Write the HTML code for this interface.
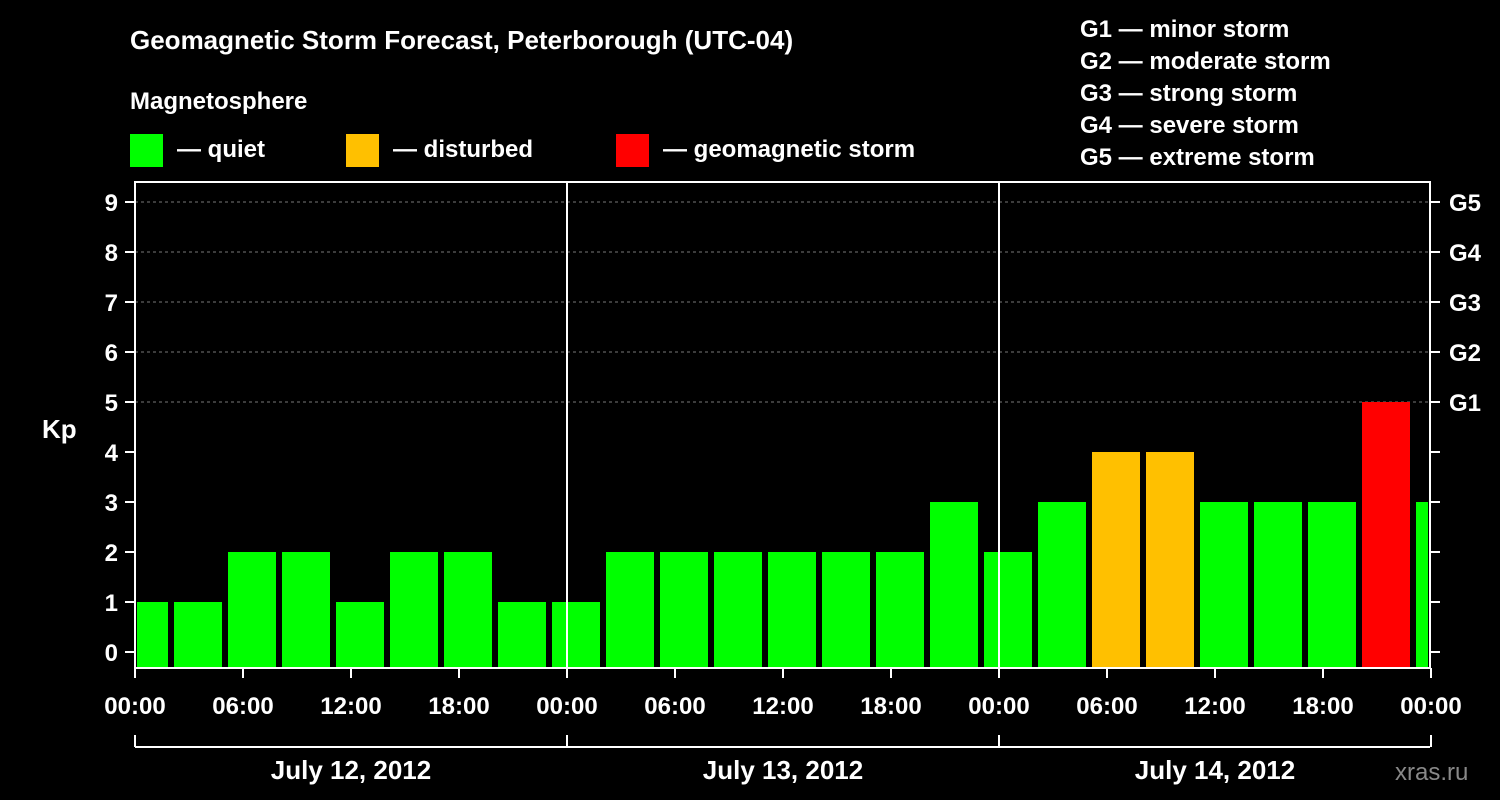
<!DOCTYPE html>
<html><head><meta charset="utf-8"><style>
body{margin:0;background:#000;}
svg{display:block;font-family:"Liberation Sans",Arial,sans-serif;font-weight:bold;}
</style></head><body>
<svg id="chart" width="1500" height="800">
<rect width="1500" height="800" fill="#000"/>
<text x="130" y="49" fill="#fff" font-size="26">Geomagnetic Storm Forecast, Peterborough (UTC-04)</text>
<text x="130" y="109" fill="#fff" font-size="24">Magnetosphere</text>
<g><rect x="130" y="134" width="33" height="33" fill="#00ff00"/><text x="177" y="157" fill="#fff" font-size="24">— quiet</text></g>
<g><rect x="346" y="134" width="33" height="33" fill="#ffc000"/><text x="393" y="157" fill="#fff" font-size="24">— disturbed</text></g>
<g><rect x="616" y="134" width="33" height="33" fill="#ff0000"/><text x="663" y="157" fill="#fff" font-size="24">— geomagnetic storm</text></g>
<g fill="#fff" font-size="24">
<text x="1080" y="37">G1 — minor storm</text>
<text x="1080" y="69">G2 — moderate storm</text>
<text x="1080" y="101">G3 — strong storm</text>
<text x="1080" y="133">G4 — severe storm</text>
<text x="1080" y="165">G5 — extreme storm</text>
</g>
<text x="42" y="438" fill="#fff" font-size="26">Kp</text>
<g id="grid"></g><g id="bars"></g><g id="axes"></g>
<text x="1395" y="780" fill="#888" font-size="24" font-weight="normal">xras.ru</text>
</svg>
<script>
const kpValues=[1,1,2,2,1,2,2,1,1,2,2,2,2,2,2,3,2,3,4,4,3,3,3,5,3];
const xTickLabels=["00:00","06:00","12:00","18:00","00:00","06:00","12:00","18:00","00:00","06:00","12:00","18:00","00:00"];
const dayLabels=["July 12, 2012","July 13, 2012","July 14, 2012"];
const gLabels=["G1","G2","G3","G4","G5"];
const NS="http://www.w3.org/2000/svg";
const L=135,R=1430,T=182,B=668;
const x=h=>L+h*18;
const y=k=>652-k*50;
function mk(tag,attrs,parent,text){const e=document.createElementNS(NS,tag);for(const k in attrs)e.setAttribute(k,attrs[k]);if(text!==undefined)e.textContent=text;parent.appendChild(e);return e;}
const grid=document.getElementById('grid'),bars=document.getElementById('bars'),axes=document.getElementById('axes');
for(let k=5;k<=9;k++){const l=mk('line',{x1:L,x2:R,y1:y(k),y2:y(k),stroke:'#777','stroke-dasharray':'3,3','stroke-width':1},grid);

}
kpValues.forEach((v,i)=>{const c=(i*3-1)+1.5;let x0=x(c)-24,x1=x(c)+24;x0=Math.max(x0,L+2);x1=Math.min(x1,R-2);
const col=v>=5?'#ff0000':(v>=4?'#ffc000':'#00ff00');
const r=mk('rect',{x:x0,y:y(v),width:x1-x0,height:B-y(v),fill:col},bars);

});
[1,2].forEach(d=>{const l=mk('line',{x1:x(24*d),x2:x(24*d),y1:T,y2:B,stroke:'#fff','stroke-width':2},axes);

});
const fr=mk('rect',{x:L,y:T,width:R-L,height:B-T,fill:'none',stroke:'#fff','stroke-width':2},axes);


for(let k=0;k<=9;k++){
mk('line',{x1:L-10,x2:L,y1:y(k),y2:y(k),stroke:'#fff','stroke-width':2},axes);
mk('line',{x1:R,x2:R+10,y1:y(k),y2:y(k),stroke:'#fff','stroke-width':2},axes);
const t=mk('text',{x:L-17,y:y(k)+9,fill:'#fff','font-size':24,'text-anchor':'end'},axes,String(k));

}
gLabels.forEach((g,i)=>{const t=mk('text',{x:1449,y:y(5+i)+9,fill:'#fff','font-size':24},axes,g);

});
xTickLabels.forEach((s,i)=>{mk('line',{x1:x(i*6),x2:x(i*6),y1:B,y2:B+10,stroke:'#fff','stroke-width':2},axes);
const t=mk('text',{x:x(i*6),y:714,fill:'#fff','font-size':24,'text-anchor':'middle'},axes,s);

});
mk('line',{x1:L,x2:R,y1:747,y2:747,stroke:'#fff','stroke-width':2},axes);
for(let d=0;d<=3;d++)mk('line',{x1:x(24*d),x2:x(24*d),y1:735,y2:747,stroke:'#fff','stroke-width':2},axes);
dayLabels.forEach((s,i)=>{const t=mk('text',{x:x(24*i+12),y:779,fill:'#fff','font-size':26,'text-anchor':'middle'},axes,s);

});
</script>
</body></html>
